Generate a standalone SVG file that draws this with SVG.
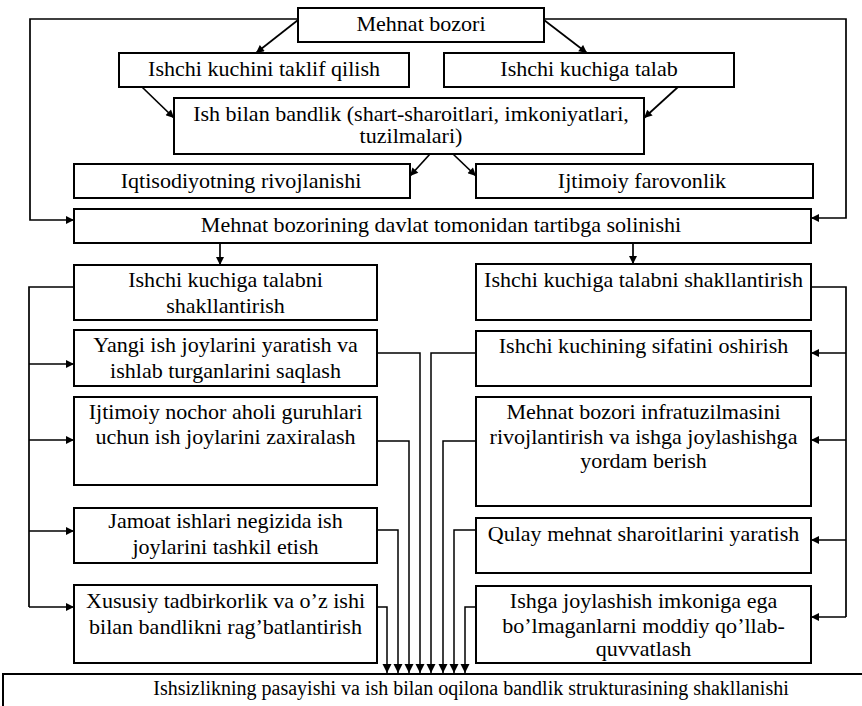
<svg xmlns="http://www.w3.org/2000/svg" width="862" height="706" viewBox="0 0 862 706">
  <style>
    rect.box { fill: #ffffff; stroke: #000000; stroke-width: 2; }
    text { font-family: "Liberation Serif", "Times New Roman", serif; font-size: 21px; fill: #000000; text-anchor: middle; }
    text.small { font-size: 20px; }
    .wire { fill: none; stroke: #000000; stroke-width: 1.7; }
    .arr { fill: none; stroke: #000000; stroke-width: 1.7; marker-end: url(#head); }
    .down { fill: none; stroke: #000000; stroke-width: 1.5; marker-end: url(#headDown); }
  </style>
  <defs>
    <marker id="head" viewBox="0 0 10 10" refX="10" refY="5" markerWidth="10" markerHeight="8" markerUnits="userSpaceOnUse" orient="auto">
      <path d="M0,0 L10,5 L0,10 Z" fill="#000000"/>
    </marker>
    <marker id="headDown" viewBox="0 0 10 10" refX="10" refY="5" markerWidth="9" markerHeight="11" markerUnits="userSpaceOnUse" orient="auto">
      <path d="M0,0 L10,5 L0,10 Z" fill="#000000"/>
    </marker>
  </defs>

  <rect width="862" height="706" fill="#ffffff"/>

  <!-- connectors -->
  <g id="connectors">
    <!-- from the top node -->
    <path class="arr" d="M298,20 L256,53"/>
    <path class="arr" d="M544,20 L587,53"/>
    <path class="arr" d="M298,19 H30 V220 H74"/>
    <path class="arr" d="M544,19 H846 V218 H811"/>
    <!-- into the employment node -->
    <path class="arr" d="M142,87 L174,118"/>
    <path class="arr" d="M678,87 L644,118"/>
    <!-- out of the employment node -->
    <path class="arr" d="M430,154 L410,176"/>
    <path class="arr" d="M453,154 L476,176"/>
    <!-- regulation node to both columns -->
    <path class="arr" d="M220,243 V265"/>
    <path class="arr" d="M633,243 V264"/>
    <!-- left bus -->
    <path class="wire" d="M74,287 H29 V607"/>
    <path class="arr" d="M29,364 H74"/>
    <path class="arr" d="M29,440 H74"/>
    <path class="arr" d="M29,531 H74"/>
    <path class="arr" d="M29,607 H74"/>
    <!-- right bus -->
    <path class="wire" d="M811,287 H846 V617"/>
    <path class="arr" d="M846,353 H811"/>
    <path class="arr" d="M846,440 H811"/>
    <path class="arr" d="M846,540 H811"/>
    <path class="arr" d="M846,617 H811"/>
    <!-- feeds into the result node -->
    <path class="down" d="M377,607 H387 V673"/>
    <path class="down" d="M377,530 H398 V673"/>
    <path class="down" d="M377,441 H409 V673"/>
    <path class="down" d="M377,353 H420 V673"/>
    <path class="down" d="M476,353 H431 V673"/>
    <path class="down" d="M476,441 H443 V673"/>
    <path class="down" d="M476,530 H454 V673"/>
    <path class="down" d="M476,607 H465 V673"/>
  </g>

  <g id="labour-market">
    <rect class="box" x="298" y="8" width="246" height="34"/>
    <text transform="translate(421 31) scale(1.05 1)">Mehnat bozori</text>
  </g>
  <g id="supply">
    <rect class="box" x="119" y="53" width="290" height="34"/>
    <text transform="translate(264 76) scale(1.05 1)">Ishchi kuchini taklif qilish</text>
  </g>
  <g id="demand">
    <rect class="box" x="444" y="53" width="290" height="34"/>
    <text transform="translate(589 76) scale(1.05 1)">Ishchi kuchiga talab</text>
  </g>
  <g id="employment">
    <rect class="box" x="174" y="98" width="470" height="56"/>
    <text transform="translate(411 121) scale(1.05 1)"><tspan x="0" y="0">Ish bilan bandlik (shart-sharoitlari, imkoniyatlari,</tspan><tspan x="0" y="22">tuzilmalari)</tspan></text>
  </g>
  <g id="economy">
    <rect class="box" x="74" y="164" width="336" height="34"/>
    <text transform="translate(241 188) scale(1.05 1)">Iqtisodiyotning rivojlanishi</text>
  </g>
  <g id="welfare">
    <rect class="box" x="476" y="164" width="337" height="34"/>
    <text transform="translate(642 188) scale(1.05 1)">Ijtimoiy farovonlik</text>
  </g>
  <g id="regulation">
    <rect class="box" x="74" y="209" width="737" height="34"/>
    <text transform="translate(441 232) scale(1.05 1)">Mehnat bozorining davlat tomonidan tartibga solinishi</text>
  </g>

  <!-- left column -->
  <g id="left-demand">
    <rect class="box" x="74" y="265" width="303" height="55"/>
    <text transform="translate(225.5 287) scale(1.05 1)"><tspan x="0" y="0">Ishchi kuchiga talabni</tspan><tspan x="0" y="26">shakllantirish</tspan></text>
  </g>
  <g id="new-jobs">
    <rect class="box" x="74" y="330" width="303" height="56"/>
    <text transform="translate(225.5 352) scale(1.05 1)"><tspan x="0" y="0">Yangi ish joylarini yaratish va</tspan><tspan x="0" y="26">ishlab turganlarini saqlash</tspan></text>
  </g>
  <g id="reserved-jobs">
    <rect class="box" x="74" y="397" width="303" height="88"/>
    <text transform="translate(225.5 419) scale(1.05 1)"><tspan x="0" y="0">Ijtimoiy nochor aholi guruhlari</tspan><tspan x="0" y="25">uchun ish joylarini zaxiralash</tspan></text>
  </g>
  <g id="public-works">
    <rect class="box" x="74" y="508" width="303" height="55"/>
    <text transform="translate(225.5 528) scale(1.05 1)"><tspan x="0" y="0">Jamoat ishlari negizida ish</tspan><tspan x="0" y="26">joylarini tashkil etish</tspan></text>
  </g>
  <g id="self-employment">
    <rect class="box" x="74" y="585" width="303" height="78"/>
    <text transform="translate(225.5 608) scale(1.05 1)"><tspan x="0" y="0">Xususiy tadbirkorlik va o’z ishi</tspan><tspan x="0" y="26">bilan bandlikni rag’batlantirish</tspan></text>
  </g>

  <!-- right column -->
  <g id="right-demand">
    <rect class="box" x="476" y="264" width="335" height="56"/>
    <text transform="translate(643.5 287) scale(1.05 1)">Ishchi kuchiga talabni shakllantirish</text>
  </g>
  <g id="quality">
    <rect class="box" x="476" y="331" width="335" height="55"/>
    <text transform="translate(643.5 353) scale(1.05 1)">Ishchi kuchining sifatini oshirish</text>
  </g>
  <g id="infrastructure">
    <rect class="box" x="476" y="397" width="335" height="109"/>
    <text transform="translate(643.5 419) scale(1.05 1)"><tspan x="0" y="0">Mehnat bozori infratuzilmasini</tspan><tspan x="0" y="25">rivojlantirish va ishga joylashishga</tspan><tspan x="0" y="49">yordam berish</tspan></text>
  </g>
  <g id="conditions">
    <rect class="box" x="476" y="518" width="335" height="55"/>
    <text transform="translate(643.5 541) scale(1.05 1)">Qulay mehnat sharoitlarini yaratish</text>
  </g>
  <g id="support">
    <rect class="box" x="476" y="586" width="335" height="77"/>
    <text transform="translate(643.5 608) scale(1.05 1)"><tspan x="0" y="0">Ishga joylashish imkoniga ega</tspan><tspan x="0" y="25">bo’lmaganlarni moddiy qo’llab-</tspan><tspan x="0" y="48">quvvatlash</tspan></text>
  </g>

  <g id="result">
    <rect class="box" x="3" y="674" width="900" height="50"/>
    <text class="small" transform="translate(471 695)">Ishsizlikning pasayishi va ish bilan oqilona bandlik strukturasining shakllanishi</text>
  </g>
</svg>
